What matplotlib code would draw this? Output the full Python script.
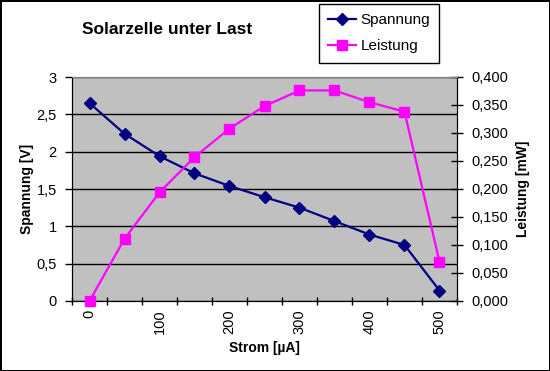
import numpy as np
import matplotlib.pyplot as plt
from matplotlib.lines import Line2D

plt.rcParams['font.family'] = ['Liberation Sans', 'DejaVu Sans']

# Daten
strom = [0, 50, 100, 150, 200, 250, 300, 350, 400, 450, 500]  # µA
spannung = [2.65, 2.24, 1.94, 1.71, 1.54, 1.39, 1.25, 1.07, 0.89, 0.75, 0.14]  # V
leistung = [0.0, 0.111, 0.194, 0.257, 0.308, 0.348, 0.376, 0.376, 0.355, 0.338, 0.070]  # mW

y1_ticks = [0, 0.5, 1, 1.5, 2, 2.5, 3]
y1_labels = ["0", "0,5", "1", "1,5", "2", "2,5", "3"]
y2_ticks = [0, 0.05, 0.1, 0.15, 0.2, 0.25, 0.3, 0.35, 0.4]
y2_labels = ["0,000", "0,050", "0,100", "0,150", "0,200", "0,250", "0,300", "0,350", "0,400"]

W, H = 550, 371
fig = plt.figure(figsize=(W / 100, H / 100), dpi=100)
fig.patch.set_facecolor('white')
fig.patch.set_edgecolor('black')
fig.patch.set_linewidth(2)

ax = fig.add_axes([72 / W, 1 - 301 / H, 385 / W, 224 / H])
ax.set_facecolor('#C0C0C0')
ax2 = ax.twinx()

x = np.arange(len(strom))
navy = '#000080'
magenta = '#FF00FF'

ax.plot(x, spannung, color=navy, lw=1.6, marker='D', ms=6, mfc=navy, mec=navy, zorder=3)
ax2.plot(x, leistung, color=magenta, lw=1.6, marker='s', ms=7, mfc=magenta, mec=magenta,
         zorder=3, clip_on=False)

ax.set_xlim(-0.5, len(strom) - 0.5)
ax.set_ylim(0, 3)
ax2.set_ylim(0, 0.4)

# x-Achse: Striche zwischen Kategorien, Beschriftung jede zweite Kategorie
ax.set_xticks(x[::2])
ax.set_xticklabels([str(s) for s in strom[::2]], rotation=90, fontsize=10.5)
ax.set_xticks(np.arange(-0.5, len(strom)), minor=True)
ax.tick_params(axis='x', which='major', length=0, pad=6)
ax.tick_params(axis='x', which='minor', length=6, direction='inout', width=1, color='black')

ax.set_yticks(y1_ticks)
ax.set_yticklabels(y1_labels, fontsize=10.5)
ax.tick_params(axis='y', length=5, direction='out', width=1, pad=6)
ax2.set_yticks(y2_ticks)
ax2.set_yticklabels(y2_labels, fontsize=10.5)
ax2.tick_params(axis='y', length=8, direction='inout', width=1, pad=6)

ax.yaxis.grid(True, color='black', lw=1)
ax.set_axisbelow(True)

for a in (ax, ax2):
    a.spines['top'].set_color('#808080')
    a.spines['left'].set_color('black')
    a.spines['right'].set_color('black')
    a.spines['bottom'].set_color('black')

ax.set_ylabel("Spannung [V]", fontsize=10, fontweight='bold', labelpad=2)
ax2.set_ylabel("Leistung [mW]", fontsize=10, fontweight='bold', labelpad=6)
ax.set_xlabel("Strom [µA]", fontsize=10, fontweight='bold', labelpad=5)

fig.text(167 / W, 1 - 29 / H, "Solarzelle unter Last", fontsize=12.5, fontweight='bold',
         ha='center', va='center')

handles = [
    Line2D([], [], color=navy, lw=1.6, marker='D', ms=6, mfc=navy, mec=navy),
    Line2D([], [], color=magenta, lw=1.6, marker='s', ms=7, mfc=magenta, mec=magenta),
]
leg = fig.legend(handles, ["Spannung", "Leistung"], loc='upper left',
                 bbox_to_anchor=(319 / W, 1 - 4 / H), borderaxespad=0, fancybox=False,
                 edgecolor='black', framealpha=1, fontsize=11, handlelength=1.8,
                 handletextpad=0.3, labelspacing=0.8, borderpad=0.6)
leg.get_frame().set_linewidth(1)

fig.savefig('out.png', dpi=100)
